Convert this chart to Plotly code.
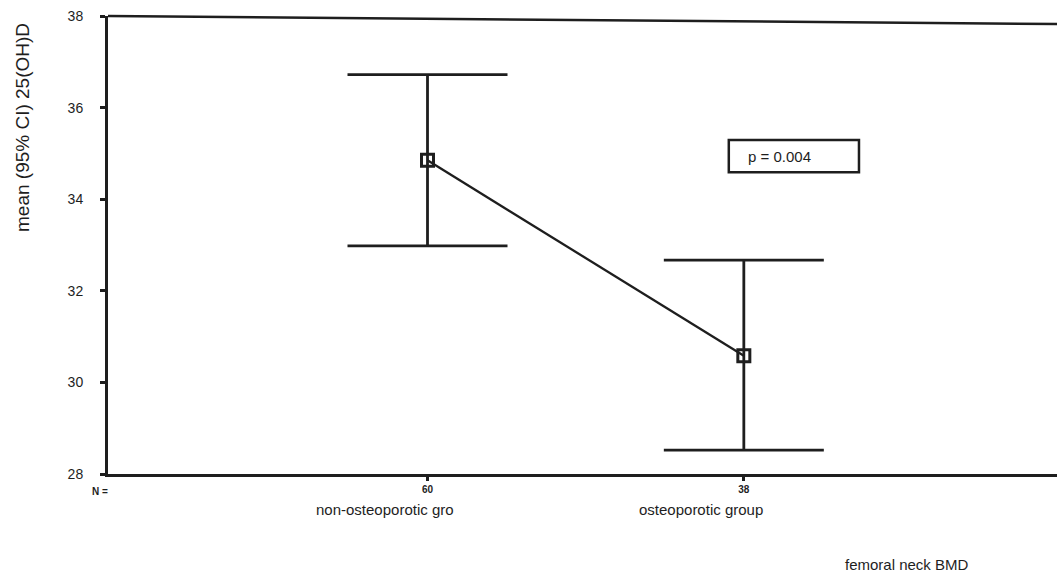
import plotly.graph_objects as go

# Group summary: mean serum 25(OH)D with 95% confidence limits
groups = ["non-osteoporotic gro", "osteoporotic group"]
group_n = ["60", "38"]
means = [34.85, 30.58]
ci_upper = [36.72, 32.67]
ci_lower = [32.98, 28.52]
y_ticks = [28, 30, 32, 34, 36, 38]
p_label = "p = 0.004"

pos = list(range(len(groups)))
err_plus = [u - m for u, m in zip(ci_upper, means)]
err_minus = [m - l for m, l in zip(means, ci_lower)]

FONT = "Liberation Sans, Arial, sans-serif"
INK = "#1e1e1e"

fig = go.Figure()

fig.add_trace(go.Scatter(
    x=pos, y=means,
    mode="lines+markers",
    line=dict(color=INK, width=2.3),
    marker=dict(symbol="square-open", size=12, color=INK, line=dict(width=3, color=INK)),
    error_y=dict(type="data", symmetric=False, array=err_plus, arrayminus=err_minus,
                 color=INK, thickness=2.8, width=80),
    showlegend=False,
    hoverinfo="skip",
))

fig.update_layout(
    width=1057, height=578,
    margin=dict(l=108, r=0, t=16, b=104),
    paper_bgcolor="white", plot_bgcolor="white",
    font=dict(family=FONT, color=INK),
    xaxis=dict(
        range=[-1.01, 1.99],
        tickmode="array", tickvals=pos, ticktext=["<b>%s</b>" % n for n in group_n],
        tickfont=dict(size=10, family=FONT, color=INK),
        ticks="outside", ticklen=4, tickwidth=3, tickcolor=INK,
        showline=True, linecolor=INK, linewidth=3, mirror=False,
        showgrid=False, zeroline=False, fixedrange=True,
    ),
    yaxis=dict(
        range=[28, 38],
        tickmode="array", tickvals=y_ticks, ticktext=[str(v) for v in y_ticks],
        tickfont=dict(size=14, family=FONT, color=INK),
        ticks="outside", ticklen=5, tickwidth=2.5, tickcolor=INK,
        ticklabelstandoff=14,
        showline=True, linecolor=INK, linewidth=3,
        showgrid=False, zeroline=False, fixedrange=True,
    ),
)

# top frame edge
fig.add_shape(type="line", xref="paper", yref="paper", x0=0, x1=1, y0=1.0, y1=0.9825,
              line=dict(color=INK, width=2.5))

# count row label
fig.add_annotation(text="<b>N =</b>", xref="paper", yref="paper", x=0, y=0, xanchor="right",
                   yanchor="middle", xshift=2, yshift=-17, showarrow=False,
                   font=dict(size=10, family=FONT, color=INK))

# group names under the counts
for p, g in zip(pos, groups):
    fig.add_annotation(text=g, x=p, xref="x", y=0, yref="paper", xanchor="center",
                       yanchor="middle", xshift=-43, yshift=-35, showarrow=False,
                       font=dict(size=15, family=FONT, color=INK))

# axis titles
fig.add_annotation(text="mean (95% CI) 25(OH)D", xref="paper", yref="paper",
                   x=0, y=1, xanchor="center", yanchor="middle",
                   xshift=-86, yshift=-112, textangle=-90, showarrow=False,
                   font=dict(size=19, family=FONT, color=INK))
fig.add_annotation(text="femoral neck BMD", xref="paper", yref="paper",
                   x=1, y=0, xanchor="right", yanchor="top",
                   xshift=-86, yshift=-80, showarrow=False,
                   font=dict(size=15, family=FONT, color=INK))

# p-value box
fig.add_shape(type="rect", xref="x", yref="y", x0=0.9525, x1=1.364, y0=34.59, y1=35.29,
              line=dict(color=INK, width=2.5), fillcolor="white")
fig.add_annotation(text=p_label, xref="x", yref="y", x=1.006, y=34.94,
                   xanchor="left", yanchor="middle", showarrow=False,
                   font=dict(size=15, family=FONT, color=INK))

fig.write_html("out.html")
